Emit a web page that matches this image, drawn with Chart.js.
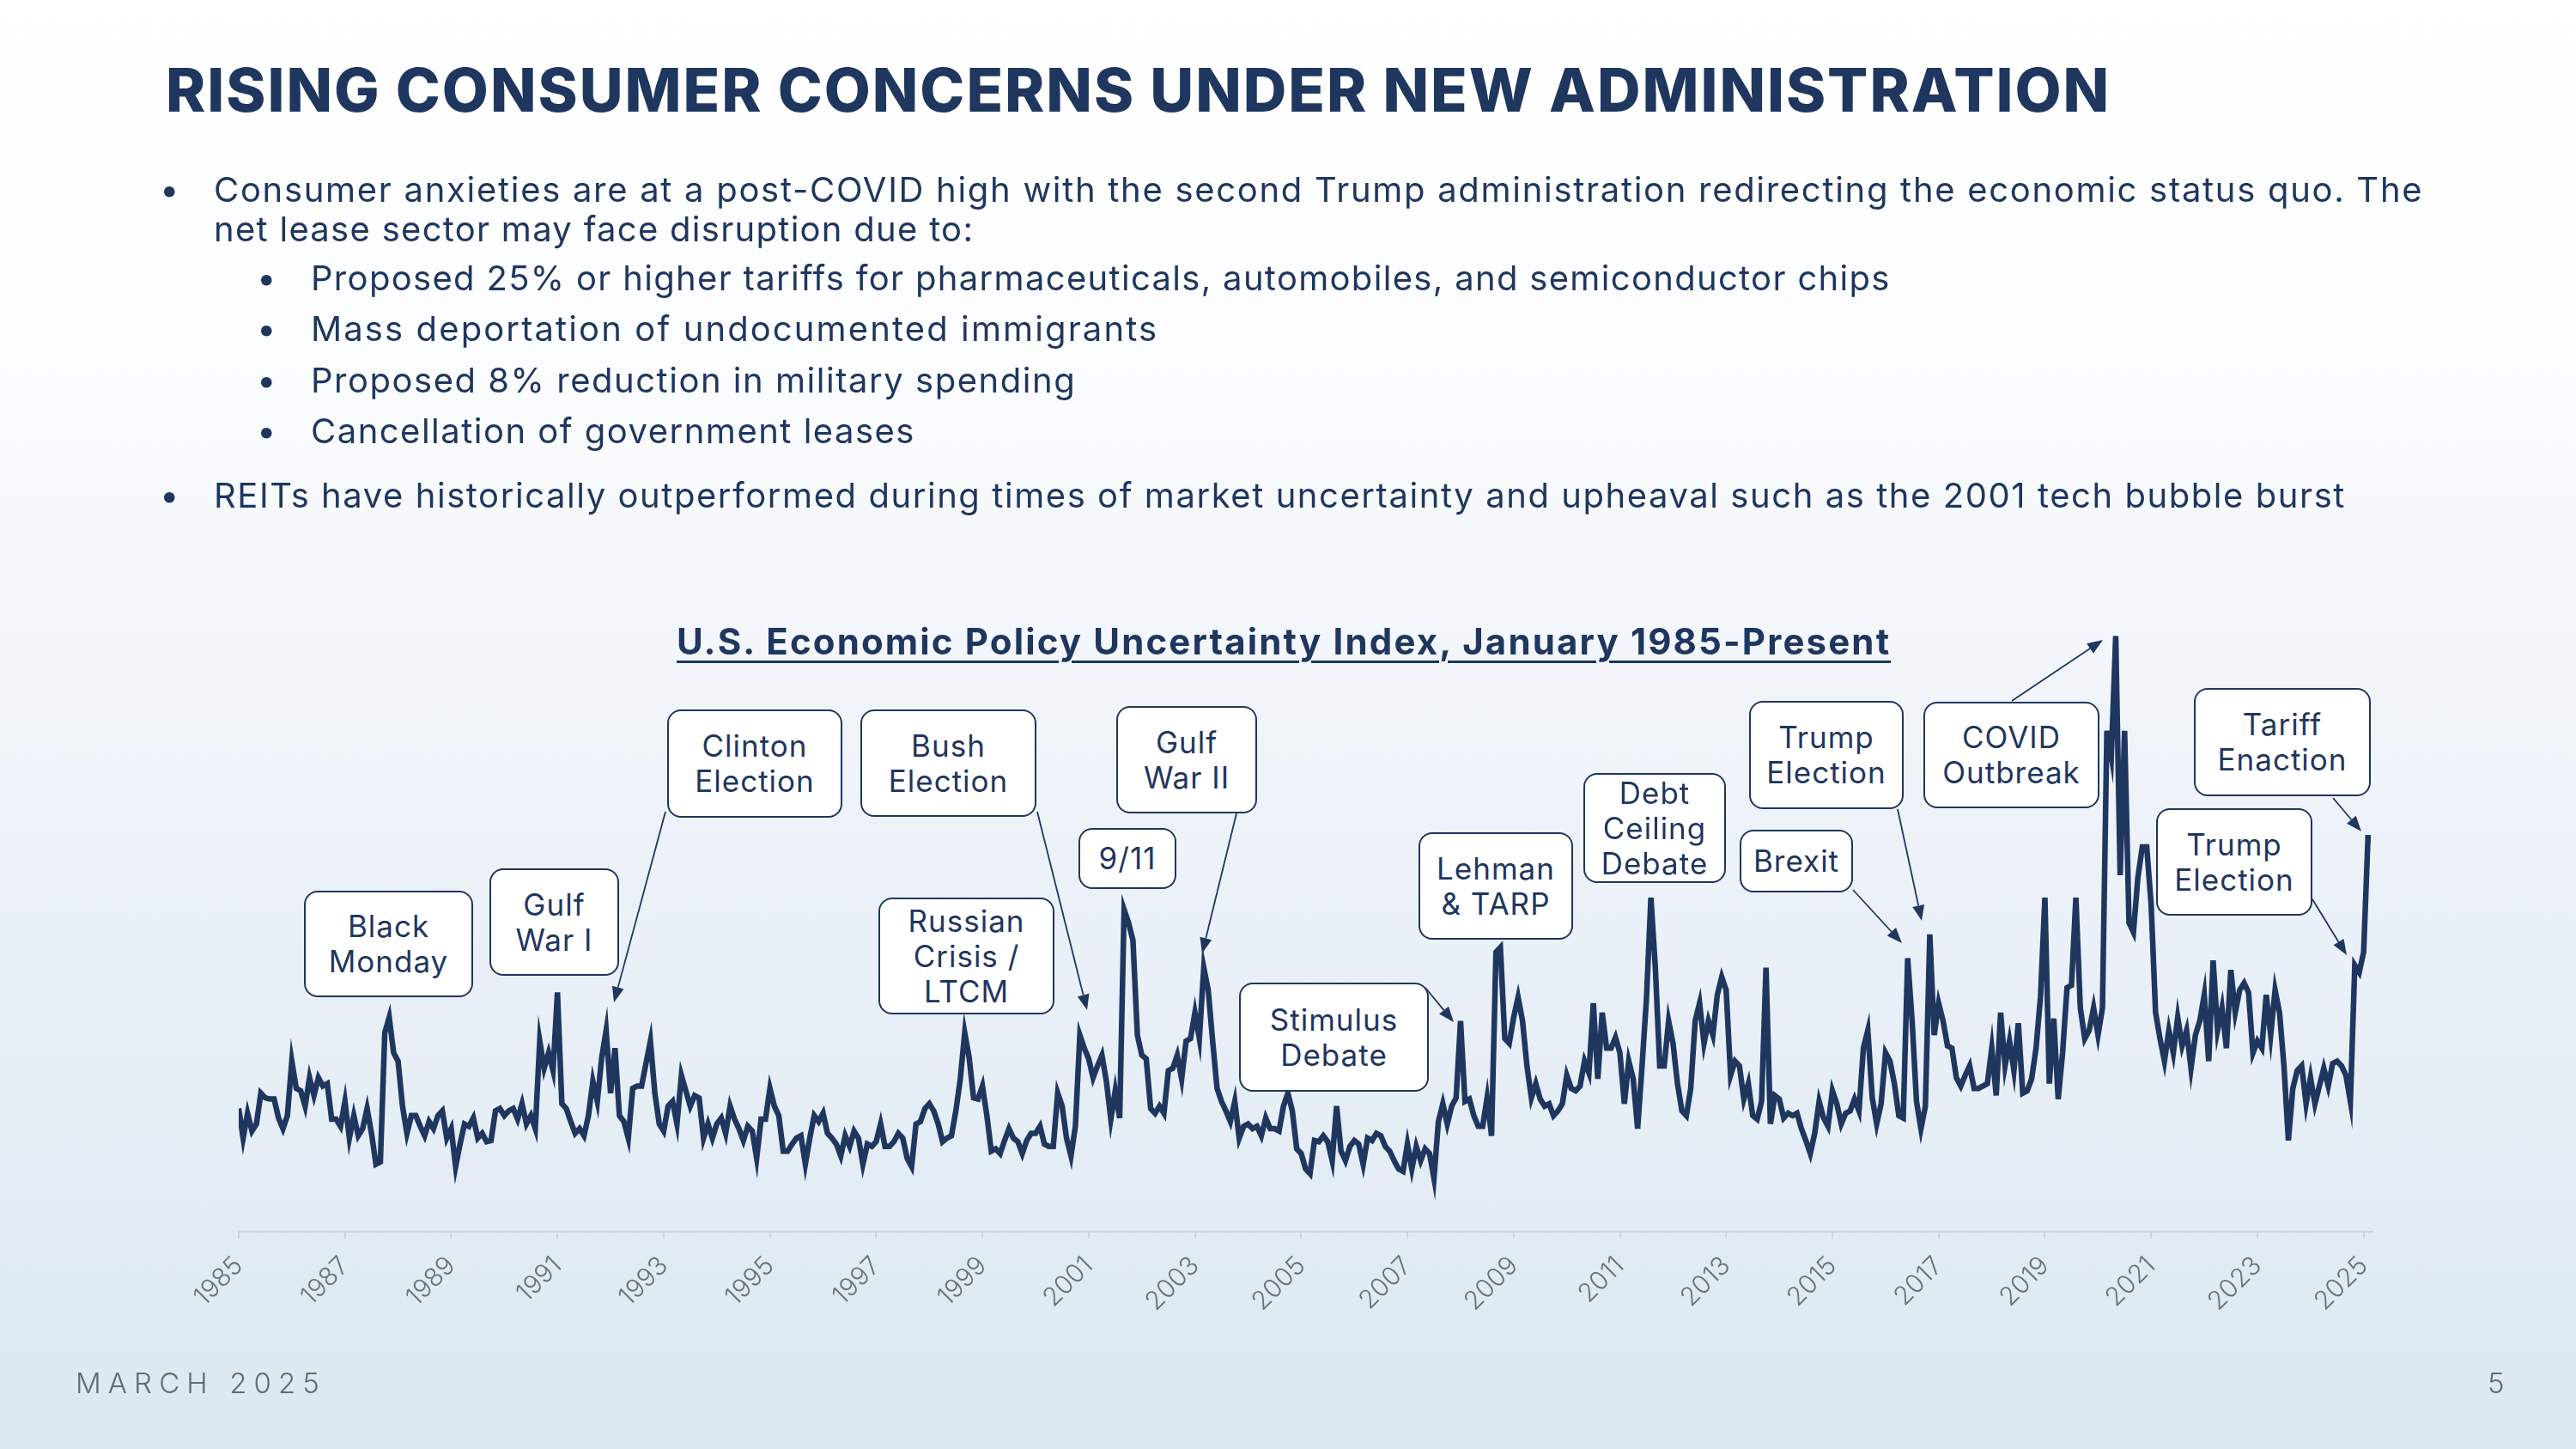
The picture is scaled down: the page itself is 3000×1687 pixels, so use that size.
<!DOCTYPE html>
<html>
<head>
<meta charset="utf-8">
<title>Rising Consumer Concerns Under New Administration</title>
<script src="https://cdn.jsdelivr.net/npm/chart.js@4.4.1/dist/chart.umd.min.js"></script>
<style>
  html, body { margin: 0; padding: 0; }
  body { width: 3000px; height: 1687px; overflow: hidden; }
  #page {
    position: relative;
    width: 3000px;
    height: 1687px;
    background: linear-gradient(180deg, #ffffff 0%, #fcfdfe 22%, #eef3f9 55%, #dce7f1 100%);
    font-family: Inter, "Noto Sans", sans-serif;
    color: #1f365f;
  }
  #chart { position: absolute; left: 0; top: 0; }
  .txt { position: absolute; white-space: nowrap; line-height: 1; }
  .title { font-size: 70px; font-weight: 800; }
  .bullet { font-size: 40px; }
  .chart-title {
    font-size: 42px;
    font-weight: 700;
    text-decoration: underline;
    text-decoration-thickness: 3px;
    text-underline-offset: 7px;
  }
  .footer { font-size: 33px; color: #5e6c79; font-weight: 300; }
  .callout {
    position: absolute;
    box-sizing: border-box;
    border: 2.5px solid #1f365f;
    border-radius: 16px;
    background: #ffffff;
    display: flex;
    align-items: center;
    justify-content: center;
    text-align: center;
    font-size: 35px;
    line-height: 41px;
    letter-spacing: 1px;
    color: #1f365f;
  }
</style>
</head>
<body>
<div id="page">
  <canvas id="chart" width="3000" height="1687"></canvas>

  <div class="txt title" data-x="193" data-base="130" data-fit="2265">RISING CONSUMER CONCERNS UNDER NEW ADMINISTRATION</div>

  <div class="txt bullet" data-x="186" data-base="235">•</div>
  <div class="txt bullet" data-x="249" data-base="235" data-fit="2573">Consumer anxieties are at a post-COVID high with the second Trump administration redirecting the economic status quo. The</div>
  <div class="txt bullet" data-x="249" data-base="281" data-fit="885">net lease sector may face disruption due to:</div>
  <div class="txt bullet" data-x="299" data-base="338">•</div>
  <div class="txt bullet" data-x="362" data-base="338" data-fit="1840">Proposed 25% or higher tariffs for pharmaceuticals, automobiles, and semiconductor chips</div>
  <div class="txt bullet" data-x="299" data-base="397">•</div>
  <div class="txt bullet" data-x="362" data-base="397" data-fit="987">Mass deportation of undocumented immigrants</div>
  <div class="txt bullet" data-x="299" data-base="457">•</div>
  <div class="txt bullet" data-x="362" data-base="457" data-fit="891">Proposed 8% reduction in military spending</div>
  <div class="txt bullet" data-x="299" data-base="516">•</div>
  <div class="txt bullet" data-x="362" data-base="516" data-fit="704">Cancellation of government leases</div>
  <div class="txt bullet" data-x="186" data-base="591">•</div>
  <div class="txt bullet" data-x="249" data-base="591" data-fit="2483">REITs have historically outperformed during times of market uncertainty and upheaval such as the 2001 tech bubble burst</div>

  <div class="txt chart-title" data-x="788" data-base="762" data-fit="1414">U.S. Economic Policy Uncertainty Index, January 1985-Present</div>

  <div class="txt footer" data-x="88" data-base="1622" data-fit="292">MARCH 2025</div>
  <div class="txt footer" data-x="2897" data-base="1622">5</div>
</div>

<script>
// Economic Policy Uncertainty index, monthly from January 1985
const startYear = 1985;
const epuIndex = [
  104, 79, 100, 85, 91, 117, 113, 112, 112, 96, 87, 98,      // 1985
  144, 121, 119, 106, 130, 115, 130, 123, 125, 95, 95, 89,   // 1986
  110, 79, 98, 81, 87, 104, 83, 57, 59, 168, 181, 151,       // 1987
  144, 106, 83, 98, 98, 89, 81, 93, 87, 98, 102, 79,         // 1988
  87, 55, 74, 91, 89, 96, 79, 83, 76, 77, 102, 104,          // 1989
  98, 102, 104, 95, 108, 91, 98, 87, 161, 138, 151, 136,     // 1990
  202, 108, 104, 93, 83, 87, 81, 98, 127, 110, 147, 170,     // 1991
  117, 155, 98, 93, 79, 121, 123, 123, 142, 161, 117, 91,    // 1992
  85, 106, 110, 91, 132, 119, 106, 115, 113, 79, 91, 79,     // 1993
  91, 96, 83, 106, 95, 87, 77, 89, 85, 62, 95, 95,           // 1994
  121, 106, 98, 68, 68, 74, 79, 81, 57, 79, 98, 93,          // 1995
  100, 83, 79, 74, 64, 81, 72, 85, 79, 57, 74, 72,           // 1996
  76, 91, 72, 72, 76, 83, 79, 62, 55, 91, 93, 104,           // 1997
  108, 102, 91, 76, 79, 81, 102, 129, 168, 147, 113, 112,    // 1998
  123, 98, 68, 70, 66, 77, 87, 79, 76, 66, 77, 83,           // 1999
  83, 89, 74, 72, 72, 117, 106, 79, 64, 89, 166, 155,        // 2000
  146, 130, 140, 149, 127, 95, 119, 96, 272, 261, 246, 166,  // 2001
  149, 146, 104, 100, 106, 100, 136, 138, 149, 129, 161, 163, // 2002
  185, 163, 223, 204, 161, 121, 110, 102, 93, 110, 79, 89,   // 2003
  91, 87, 89, 81, 96, 87, 87, 85, 106, 117, 102, 70,         // 2004
  66, 53, 49, 77, 76, 81, 76, 60, 106, 68, 60, 72,           // 2005
  77, 74, 57, 79, 77, 83, 81, 72, 68, 60, 53, 51,            // 2006
  74, 53, 72, 60, 70, 66, 45, 93, 108, 91, 106, 113,         // 2007
  178, 110, 112, 98, 89, 89, 113, 81, 236, 240, 163, 159,    // 2008
  181, 198, 178, 140, 113, 125, 112, 106, 108, 98, 102, 108, // 2009
  132, 121, 119, 123, 144, 134, 193, 129, 185, 155, 155, 164, // 2010
  151, 108, 144, 129, 87, 140, 197, 282, 223, 140, 140, 178, // 2011
  159, 125, 102, 98, 121, 178, 193, 159, 178, 166, 200, 215, // 2012
  204, 132, 144, 140, 112, 125, 98, 95, 110, 223, 91, 115,   // 2013
  112, 96, 100, 98, 100, 87, 77, 66, 83, 110, 96, 89,        // 2014
  119, 108, 91, 100, 102, 112, 102, 155, 170, 113, 91, 108,  // 2015
  151, 144, 125, 98, 96, 231, 178, 110, 87, 106, 251, 166,   // 2016
  193, 178, 157, 155, 130, 123, 132, 140, 121, 121, 123, 125, // 2017
  155, 115, 185, 140, 161, 136, 176, 117, 119, 129, 155, 198, // 2018
  282, 125, 180, 112, 151, 206, 208, 282, 189, 163, 170, 189, // 2019
  166, 189, 423, 401, 503, 301, 423, 261, 253, 299, 325, 325, // 2020
  276, 185, 163, 144, 170, 151, 181, 157, 170, 138, 166, 178, // 2021
  200, 144, 229, 170, 189, 155, 221, 185, 204, 210, 202, 151, // 2022
  161, 155, 200, 166, 204, 185, 140, 77, 121, 136, 140, 108,  // 2023
  130, 108, 123, 138, 123, 142, 144, 140, 132, 110, 225, 219, // 2024
  236, 335                                                    // 2025
];

const tickYears = [1985, 1987, 1989, 1991, 1993, 1995, 1997, 1999, 2001, 2003,
  2005, 2007, 2009, 2011, 2013, 2015, 2017, 2019, 2021, 2023, 2025];

const eventLabels = [
  'Black\nMonday', 'Gulf\nWar I', 'Clinton\nElection', 'Bush\nElection',
  'Russian\nCrisis /\nLTCM', '9/11', 'Gulf\nWar II', 'Stimulus\nDebate',
  'Lehman\n& TARP', 'Debt\nCeiling\nDebate', 'Trump\nElection', 'Brexit',
  'COVID\nOutbreak', 'Trump\nElection', 'Tariff\nEnaction'
];

// callout layout, page pixels: [left, top, width, height]
const calloutBoxes = [
  [354, 1037, 197, 124], [570, 1011, 151, 125], [777, 826, 204, 126], [1002, 826, 205, 125],
  [1023, 1045, 205, 136], [1256, 964, 114, 71], [1300, 822, 164, 125], [1443, 1144, 221, 127],
  [1652, 969, 180, 125], [1844, 900, 166, 128], [2037, 816, 180, 126], [2026, 966, 132, 73],
  [2240, 817, 205, 124], [2511, 941, 182, 125], [2555, 801, 206, 126]
];

// arrows from callouts, page pixels: [fromX, fromY, tipX, tipY]
const calloutArrows = [
  [775, 945, 715, 1167],
  [1208, 945, 1266, 1176],
  [1440, 947, 1400, 1110],
  [1660, 1150, 1693, 1190],
  [2210, 942, 2238, 1072],
  [2158, 1036, 2215, 1098],
  [2343, 816, 2449, 745],
  [2693, 1047, 2733, 1112],
  [2717, 929, 2750, 968]
];

const NAVY = '#1f365f';
const page = document.getElementById('page');

// place text by baseline and stretch its tracking to the reference width
document.querySelectorAll('.txt').forEach(el => {
  el.style.left = el.dataset.x + 'px';
  el.style.top = '0px';
  if (el.dataset.fit) {
    const w = el.getBoundingClientRect().width;
    const n = el.textContent.length;
    el.style.letterSpacing = ((+el.dataset.fit - w) / n).toFixed(2) + 'px';
  }
  const mark = document.createElement('span');
  mark.style.cssText = 'display:inline-block;width:0;height:0;vertical-align:baseline';
  el.appendChild(mark);
  const base = mark.getBoundingClientRect().top - el.getBoundingClientRect().top;
  el.style.top = (+el.dataset.base - base) + 'px';
});

eventLabels.forEach((label, i) => {
  const [x, y, w, h] = calloutBoxes[i];
  const box = document.createElement('div');
  box.className = 'callout';
  box.style.left = x + 'px';
  box.style.top = y + 'px';
  box.style.width = w + 'px';
  box.style.height = h + 'px';
  box.innerHTML = label.split('\n').join('<br>');
  page.appendChild(box);
});

const arrowPlugin = {
  id: 'calloutArrows',
  afterDatasetsDraw(chart) {
    const ctx = chart.ctx;
    ctx.save();
    ctx.strokeStyle = NAVY;
    ctx.fillStyle = NAVY;
    ctx.lineWidth = 1.8;
    for (const [x1, y1, x2, y2] of calloutArrows) {
      const a = Math.atan2(y2 - y1, x2 - x1);
      const len = 18, half = 7;
      const bx = x2 - len * Math.cos(a);
      const by = y2 - len * Math.sin(a);
      ctx.beginPath();
      ctx.moveTo(x1, y1);
      ctx.lineTo(bx, by);
      ctx.stroke();
      ctx.beginPath();
      ctx.moveTo(x2, y2);
      ctx.lineTo(bx + half * Math.sin(a), by - half * Math.cos(a));
      ctx.lineTo(bx - half * Math.sin(a), by + half * Math.cos(a));
      ctx.closePath();
      ctx.fill();
    }
    ctx.restore();
  }
};

const points = epuIndex.map((v, i) => ({ x: startYear + i / 12, y: v }));

new Chart(document.getElementById('chart'), {
  type: 'line',
  data: {
    datasets: [{
      data: points,
      borderColor: NAVY,
      borderWidth: 6.5,
      pointRadius: 0,
      tension: 0,
      fill: false
    }]
  },
  options: {
    responsive: false,
    animation: false,
    devicePixelRatio: 1,
    layout: { padding: { left: 278, right: 237, top: 717, bottom: 0 } },
    plugins: {
      legend: { display: false },
      tooltip: { enabled: false }
    },
    scales: {
      x: {
        type: 'linear',
        min: startYear,
        max: 2025 + 2 / 12,
        afterBuildTicks: (scale) => { scale.ticks = tickYears.map(v => ({ value: v })); },
        afterFit: (scale) => { scale.height = 253; },
        grid: { drawOnChartArea: false, drawTicks: true, tickLength: 8, color: '#cbd5e0', lineWidth: 2 },
        border: { color: '#cbd5e0', width: 2 },
        ticks: {
          autoSkip: false,
          minRotation: 45,
          maxRotation: 45,
          padding: 14,
          color: '#66737f',
          font: { family: 'Inter', size: 30, weight: '300' },
          callback: (v) => String(v)
        }
      },
      y: { display: false, min: 0, max: 520 }
    }
  },
  plugins: [arrowPlugin]
});
</script>
</body>
</html>
